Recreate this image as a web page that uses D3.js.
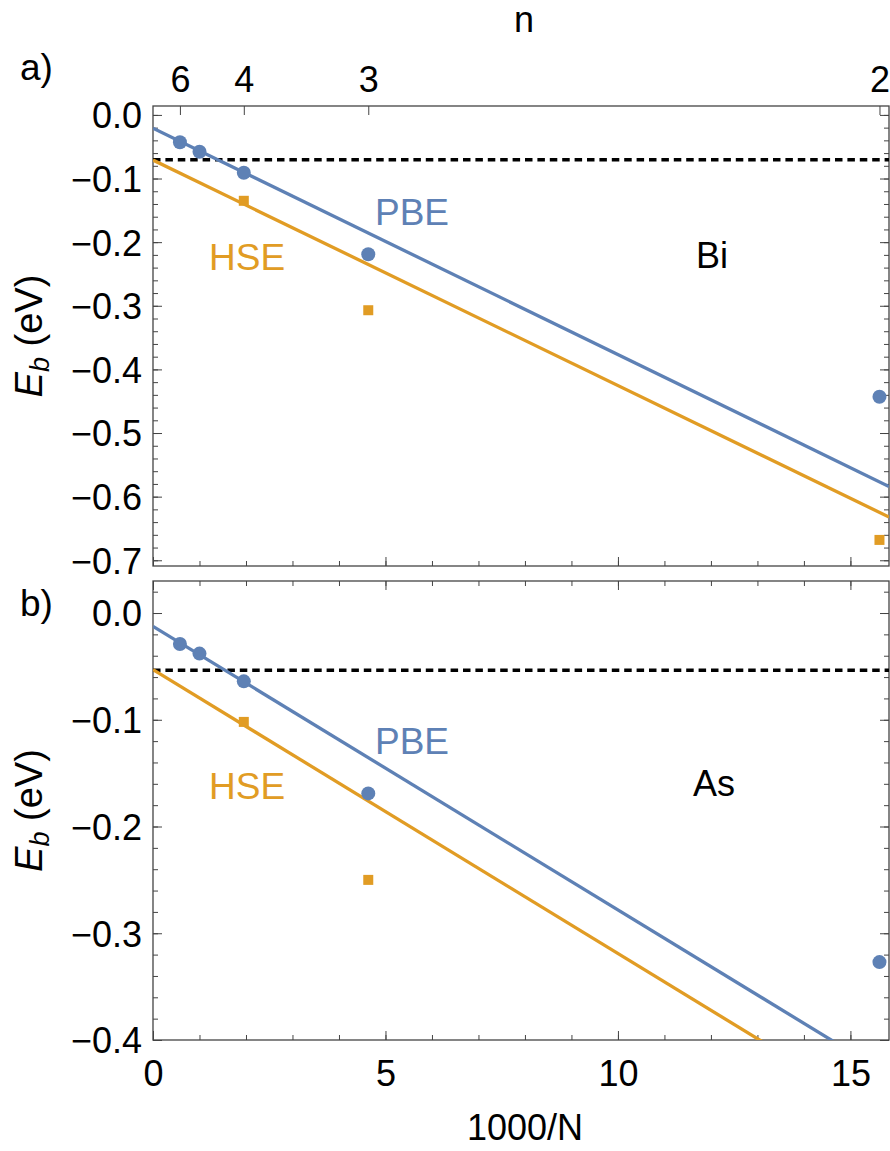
<!DOCTYPE html>
<html>
<head>
<meta charset="utf-8">
<script src="https://cdn.jsdelivr.net/npm/d3@7"></script>
<style>
  body { margin: 0; background: #fff; }
  text { font-family: "Liberation Sans", Arial, sans-serif; }
</style>
</head>
<body>
<div id="canvas"></div>
<script>
// 1000/N positions of the computed slabs (n = 6, 5, 4, 3, 2)
var xPBE = [0.579, 1.0, 1.953, 4.63, 15.625]
var xHSE = [1.953, 4.63, 15.625]

// top axis: number of layers n
var nTickX = [0.579, 1.953, 4.63, 15.625]
var nTickLabels = ["6", "4", "3", "2"]

// panel a) Bi
var biPBE = [-0.043, -0.058, -0.091, -0.219, -0.443]
var biHSE = [-0.135, -0.307, -0.668]
var biPBEfit = [-0.021, -0.584]   // values at x = 0 and x = 15.83
var biHSEfit = [-0.071, -0.632]
var biBulk = -0.0705

// panel b) As
var asPBE = [-0.029, -0.038, -0.064, -0.169, -0.327]
var asHSE = [-0.102, -0.250]
var asPBEfit = [-0.0125, -0.433]
var asHSEfit = [-0.053, -0.474]
var asBulk = -0.0535

var xMax = 15.83
var xMajor = [0, 5, 10, 15]
var xMinor = d3.range(0, 16, 1)
var yMajorA = [0, -0.1, -0.2, -0.3, -0.4, -0.5, -0.6, -0.7]
var yMajorB = [0, -0.1, -0.2, -0.3, -0.4]

var width = 890
var height = 1151
var left = 153
var right = 889

var blue = "#5e81b5"
var orange = "#e19c24"
var frameColor = "#444"

var svg = d3.select("#canvas")
    .append("svg")
    .attr("width", width)
    .attr("height", height)

var xScale = d3.scaleLinear().domain([0, xMax]).range([left, right])

function minorTicks(lo, hi) {
    var t = []
    for (var i = Math.ceil(lo / 0.02 - 1e-6); i <= Math.floor(hi / 0.02 + 1e-6); i++) t.push(+(i * 0.02).toFixed(2))
    return t
}

function fmt(d) {
    return d3.format(".1f")(d).replace("-", "\u2212")
}

function panel(opt) {
    var y = d3.scaleLinear().domain(opt.yDomain).range([opt.bottom, opt.top])
    var g = svg.append("g")

    var clipId = "clip" + opt.name
    g.append("clipPath").attr("id", clipId)
        .append("rect")
        .attr("x", left).attr("y", opt.top)
        .attr("width", right - left).attr("height", opt.bottom - opt.top)

    var minors = minorTicks(opt.yDomain[0], opt.yDomain[1])

    // left axis
    g.append("g").attr("transform", `translate(${left},0)`)
        .call(d3.axisLeft(y).tickValues(minors).tickSize(-5).tickFormat(""))
    g.append("g").attr("class", "ylab").attr("transform", `translate(${left},0)`)
        .call(d3.axisLeft(y).tickValues(opt.yMajor).tickSize(-9).tickPadding(11).tickFormat(fmt))
    // right axis
    g.append("g").attr("transform", `translate(${right},0)`)
        .call(d3.axisRight(y).tickValues(minors).tickSize(-5).tickFormat(""))
    g.append("g").attr("transform", `translate(${right},0)`)
        .call(d3.axisRight(y).tickValues(opt.yMajor).tickSize(-9).tickFormat(""))

    // bottom axis
    g.append("g").attr("transform", `translate(0,${opt.bottom})`)
        .call(d3.axisBottom(xScale).tickValues(xMinor).tickSize(-5).tickFormat(""))
    g.append("g").attr("class", "xlab").attr("transform", `translate(0,${opt.bottom})`)
        .call(d3.axisBottom(xScale).tickValues(xMajor).tickSize(-9).tickPadding(20)
            .tickFormat(opt.xLabels ? d3.format("d") : ""))

    // top axis
    if (opt.nAxis) {
        g.append("g").attr("class", "xlab").attr("transform", `translate(0,${opt.top})`)
            .call(d3.axisTop(xScale).tickValues(nTickX).tickSize(-9).tickPadding(14)
                .tickFormat(function (d, i) { return nTickLabels[i] }))
    } else {
        g.append("g").attr("transform", `translate(0,${opt.top})`)
            .call(d3.axisTop(xScale).tickValues(xMinor).tickSize(-5).tickFormat(""))
        g.append("g").attr("transform", `translate(0,${opt.top})`)
            .call(d3.axisTop(xScale).tickValues(xMajor).tickSize(-9).tickFormat(""))
    }

    g.selectAll(".domain").remove()
    g.selectAll(".tick line").attr("stroke", frameColor).attr("stroke-width", 1)
    g.selectAll(".tick text").attr("fill", "#000").style("font-size", "36px")
        .style("font-family", "'Liberation Sans', Arial, sans-serif")
    g.selectAll(".ylab .tick text").attr("dy", "0.36em")

    // frame
    g.append("rect")
        .attr("x", left).attr("y", opt.top)
        .attr("width", right - left).attr("height", opt.bottom - opt.top)
        .attr("fill", "none").attr("stroke", frameColor).attr("stroke-width", 1.3)

    var plot = g.append("g").attr("clip-path", `url(#${clipId})`)

    // bulk reference
    plot.append("line")
        .attr("x1", xScale(0)).attr("x2", xScale(xMax))
        .attr("y1", y(opt.bulk)).attr("y2", y(opt.bulk))
        .attr("stroke", "#000").attr("stroke-width", 3.5)
        .attr("stroke-dasharray", "7.5,4.9")

    // fits
    var line = d3.line().x(function (d) { return xScale(d[0]) }).y(function (d) { return y(d[1]) })
    plot.append("path").datum([[0, opt.hseFit[0]], [xMax, opt.hseFit[1]]])
        .attr("d", line).attr("fill", "none").attr("stroke", orange).attr("stroke-width", 3.3)
    plot.append("path").datum([[0, opt.pbeFit[0]], [xMax, opt.pbeFit[1]]])
        .attr("d", line).attr("fill", "none").attr("stroke", blue).attr("stroke-width", 3.3)

    // points
    plot.selectAll(".pbe").data(opt.pbe).enter().append("circle")
        .attr("cx", function (d, i) { return xScale(xPBE[i]) })
        .attr("cy", function (d) { return y(d) })
        .attr("r", 7).attr("fill", blue)
    plot.selectAll(".hse").data(opt.hse).enter().append("rect")
        .attr("x", function (d, i) { return xScale(xHSE[i]) - 5 })
        .attr("y", function (d) { return y(d) - 5 })
        .attr("width", 10).attr("height", 10).attr("fill", orange)

    // labels
    g.append("text").attr("x", 375).attr("y", opt.pbeY).text("PBE")
        .attr("fill", blue).style("font-size", "37px")
    g.append("text").attr("x", 209).attr("y", opt.pbeY + 45).text("HSE")
        .attr("fill", orange).style("font-size", "37px")
    g.append("text").attr("x", opt.elX).attr("y", opt.elY).text(opt.element)
        .attr("text-anchor", "middle").style("font-size", "36px")
    g.append("text").attr("x", 20).attr("y", opt.tagY).text(opt.tag)
        .style("font-size", "37px")

    var yl = g.append("text")
        .attr("transform", `translate(42,${(opt.top + opt.bottom) / 2}) rotate(-90)`)
        .attr("text-anchor", "middle").style("font-size", "38px")
    yl.append("tspan").text("E").style("font-style", "italic")
    yl.append("tspan").text("b").style("font-style", "italic")
        .style("font-size", "27px").attr("dy", "7")
    yl.append("tspan").text(" (eV)").attr("dy", "-7")
}

panel({
    name: "a", top: 106, bottom: 566, yDomain: [-0.709, 0.014], yMajor: yMajorA,
    pbe: biPBE, hse: biHSE, pbeFit: biPBEfit, hseFit: biHSEfit, bulk: biBulk,
    nAxis: true, xLabels: false, pbeY: 225, element: "Bi", elX: 712, elY: 268,
    tag: "a)", tagY: 80
})

panel({
    name: "b", top: 581, bottom: 1040, yDomain: [-0.4, 0.03], yMajor: yMajorB,
    pbe: asPBE, hse: asHSE, pbeFit: asPBEfit, hseFit: asHSEfit, bulk: asBulk,
    nAxis: false, xLabels: true, pbeY: 754, element: "As", elX: 714, elY: 796,
    tag: "b)", tagY: 616
})

svg.append("text").attr("x", 524).attr("y", 32).text("n")
    .attr("text-anchor", "middle").style("font-size", "36px")
svg.append("text").attr("x", 525).attr("y", 1140).text("1000/N")
    .attr("text-anchor", "middle").style("font-size", "36px")
</script>
</body>
</html>
